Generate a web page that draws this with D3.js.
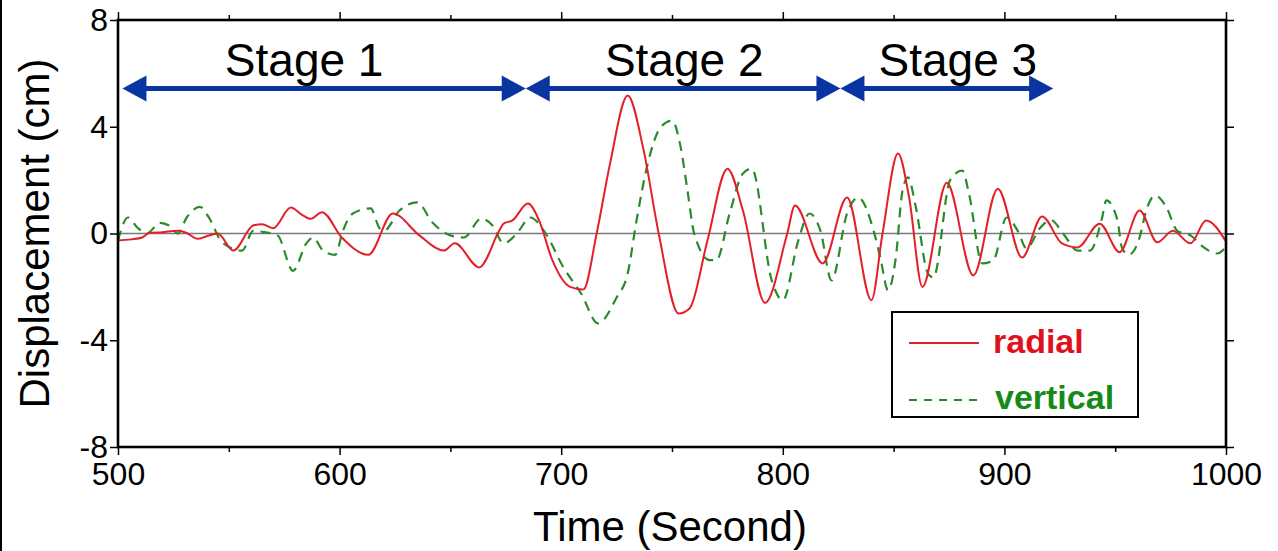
<!DOCTYPE html>
<html>
<head>
<meta charset="utf-8">
<script src="https://cdn.jsdelivr.net/npm/d3@7"></script>
<style>
  body { margin: 0; background: #fff; }
  svg { display: block; font-family: "Liberation Sans", Arial, sans-serif; }
</style>
</head>
<body>
<div id="chart"></div>
<script>
// radial component (time in s, displacement in cm)
const radialTime = [500, 506, 511, 514, 520, 527, 531, 536, 540, 545, 552, 561, 565, 570, 578, 583, 587, 592,
  601, 613, 624, 636, 647, 652, 663, 672, 674, 678, 685, 690, 696, 704, 710, 716, 722, 730, 737, 744, 753,
  758, 766, 775, 782, 792, 802, 805.5, 818, 829, 840, 845, 852, 857, 863, 874, 886, 897, 908, 917, 926, 933,
  943, 952, 961, 969, 976, 984, 991, 1000];
const radialDisp = [-0.26, -0.22, -0.15, 0.02, 0.05, 0.1, 0.02, -0.2, -0.1, 0, -0.64, 0.3, 0.35, 0.2, 0.97, 0.7, 0.55, 0.8,
  -0.15, -0.8, 0.75, -0.07, -0.64, -0.37, -1.27, 0.1, 0.37, 0.49, 1.12, 0.49, -1.0, -2.0, -2.1, 0, 2.6, 5.17, 3.2, 0, -3.0,
  -2.8, -0.26, 2.43, 0.86, -2.6, 0, 1.05, -1.12, 1.35, -2.5, 0, 3.0, 1.35, -2.0, 1.9, -1.57, 1.68, -0.9, 0.64, -0.37, -0.52,
  0.37, -0.7, 0.86, -0.33, 0.1, -0.37, 0.49, -0.3];

// vertical component
const verticalTime = [500, 504.5, 509, 513, 519, 523, 527, 531, 537, 541, 547, 556, 561, 566, 572, 579, 585, 588, 592.5,
  598, 601.5, 606, 614, 618, 620, 627, 635, 642, 650, 656, 664, 669, 674, 680, 686, 693, 701, 709, 716.6, 725, 730,
  734, 739, 745, 750, 754, 757, 760, 767, 770, 776, 782, 786, 795, 800, 807, 812, 817, 822, 829, 834, 841, 844,
  847.5, 851, 854, 856.5, 860, 865.5, 868, 875.5, 881, 884, 890, 895, 901, 906, 910, 916, 921, 926.5, 933, 938.6,
  944, 946, 951, 953, 956, 961, 964, 968, 973, 978, 984, 990, 996, 1000];
const verticalDisp = [-0.26, 0.6, 0.2, 0, 0.4, 0.3, 0, 0.6, 1.0, 0.6, -0.33, -0.64, 0.1, 0.05, -0.07, -1.4, -0.37, -0.15, -0.64,
  -0.8, 0.1, 0.75, 0.94, 0.2, 0.1, 0.86, 1.17, 0.4, -0.07, -0.15, 0.56, 0.3, -0.37, 0, 0.6, 0, -1.27, -2.25, -3.37, -2.4, -1.5,
  0.49, 2.6, 4.0, 4.23, 3.2, 1.6, 0, -1.0, -1.0, 0.75, 2.25, 2.43, -1.76, -2.5, -0.26, 0.75, 0.1, -1.76, 0.75, 1.35, 0.1, -0.9,
  -2.13, -0.9, 1.6, 2.1, 1.0, -1.5, -1.65, 2.0, 2.36, 1.5, -1.12, -1.0, 0.6, 0.1, -0.56, 0.2, 0.5, 0, -0.64, -0.64,
  0.56, 1.24, 0.5, -0.52, -0.8, -0.15, 0.86, 1.42, 1.0, 0.1, -0.07, -0.52, -0.75, -0.5];

const stageNames = ["Stage 1", "Stage 2", "Stage 3"];
const stageStart = [502, 684, 826];
const stageEnd = [684, 826, 922];
const stageLabelAt = [584, 755.5, 879];
const stageLevel = 5.43;

const xTicks = [500, 600, 700, 800, 900, 1000];
const xMinorTicks = [550, 650, 750, 850, 950];
const yTicks = [-8, -4, 0, 4, 8];

const margin = { top: 20, right: 52, bottom: 104, left: 118 };
const width = 1278 - margin.left - margin.right;
const height = 551 - margin.top - margin.bottom;

const svgRoot = d3.select("#chart").append("svg")
    .attr("width", 1278)
    .attr("height", 551);

// thin border on the left edge of the picture
svgRoot.append("line")
    .attr("x1", 1).attr("x2", 1).attr("y1", 0).attr("y2", 551)
    .style("stroke", "#000").style("stroke-width", 2);

const svg = svgRoot.append("g")
    .attr("transform", "translate(" + margin.left + "," + margin.top + ")");

const x = d3.scaleLinear().domain([500, 1000]).range([0, width]);
const y = d3.scaleLinear().domain([-8, 8]).range([height, 0]);

// zero line
svg.append("line")
    .attr("x1", 0).attr("x2", width)
    .attr("y1", y(0)).attr("y2", y(0))
    .style("stroke", "#7a7a7a").style("stroke-width", 1.6);

const radialData = radialTime.map((t, i) => [t, radialDisp[i]]);
const verticalData = verticalTime.map((t, i) => [t, verticalDisp[i]]);

const line = d3.line()
    .x(d => x(d[0]))
    .y(d => y(d[1]))
    .curve(d3.curveMonotoneX);

svg.append("path")
    .datum(verticalData)
    .attr("d", line)
    .style("fill", "none")
    .style("stroke", "#2b8a2b")
    .style("stroke-width", 2.2)
    .style("stroke-dasharray", "10,7");

svg.append("path")
    .datum(radialData)
    .attr("d", line)
    .style("fill", "none")
    .style("stroke", "#e3202a")
    .style("stroke-width", 2);

// axes
const plainNum = d => String(d);

function styleAxis(g) {
    g.select(".domain").remove();
    g.selectAll(".tick line").style("stroke", "#000").style("stroke-width", 1.5);
    g.selectAll(".tick text")
        .style("font-size", "32px")
        .style("font-family", "'Liberation Sans', Arial, sans-serif")
        .style("fill", "#000");
}

svg.append("g")
    .attr("transform", "translate(0," + height + ")")
    .call(d3.axisBottom(x).tickValues(xTicks).tickSize(8).tickPadding(7).tickFormat(plainNum))
    .call(styleAxis);
svg.append("g")
    .attr("transform", "translate(0," + height + ")")
    .call(d3.axisBottom(x).tickValues(xMinorTicks).tickSize(5).tickFormat(""))
    .call(styleAxis);
svg.append("g")
    .call(d3.axisTop(x).tickValues(xTicks).tickSize(8).tickFormat(""))
    .call(styleAxis);
svg.append("g")
    .call(d3.axisTop(x).tickValues(xMinorTicks).tickSize(5).tickFormat(""))
    .call(styleAxis);
svg.append("g")
    .call(d3.axisLeft(y).tickValues(yTicks).tickSize(8).tickPadding(2).tickFormat(plainNum))
    .call(styleAxis);
svg.append("g")
    .attr("transform", "translate(" + width + ",0)")
    .call(d3.axisRight(y).tickValues(yTicks).tickSize(8).tickFormat(""))
    .call(styleAxis);

// frame
svg.append("rect")
    .attr("x", 0).attr("y", 0)
    .attr("width", width).attr("height", height)
    .style("fill", "none")
    .style("stroke", "#000")
    .style("stroke-width", 2.6);

// axis titles
svg.append("text")
    .attr("x", width / 2 - 2)
    .attr("y", height + 94)
    .attr("text-anchor", "middle")
    .style("font-size", "42px")
    .text("Time (Second)");

svg.append("text")
    .attr("transform", "translate(" + (-69) + "," + (height / 2) + ") rotate(-90)")
    .attr("text-anchor", "middle")
    .style("font-size", "42px")
    .text("Displacement (cm)");

// stage arrows
const arrowBlue = "#0a35a0";
const headLen = 24, headHalf = 13;
stageNames.forEach((name, i) => {
    const x0 = x(stageStart[i]), x1 = x(stageEnd[i]), yy = y(stageLevel);
    svg.append("line")
        .attr("x1", x0 + headLen - 2).attr("x2", x1 - headLen + 2)
        .attr("y1", yy).attr("y2", yy)
        .style("stroke", arrowBlue).style("stroke-width", 5);
    svg.append("path")
        .attr("d", `M${x0},${yy}L${x0 + headLen},${yy - headHalf}L${x0 + headLen},${yy + headHalf}Z`)
        .style("fill", arrowBlue);
    svg.append("path")
        .attr("d", `M${x1},${yy}L${x1 - headLen},${yy - headHalf}L${x1 - headLen},${yy + headHalf}Z`)
        .style("fill", arrowBlue);
    svg.append("text")
        .attr("x", x(stageLabelAt[i]))
        .attr("y", yy - 13)
        .attr("text-anchor", "middle")
        .style("font-size", "46px")
        .text(name);
});

// legend
const legend = svg.append("g").attr("transform", "translate(" + (892 - margin.left) + "," + (312 - margin.top) + ")");
legend.append("rect")
    .attr("width", 246).attr("height", 105)
    .style("fill", "#fff").style("stroke", "#000").style("stroke-width", 2);
legend.append("line")
    .attr("x1", 17).attr("x2", 87).attr("y1", 31).attr("y2", 31)
    .style("stroke", "#e3202a").style("stroke-width", 2);
legend.append("text")
    .attr("x", 101).attr("y", 41)
    .style("font-size", "34px").style("font-weight", "bold").style("fill", "#e0101c")
    .text("radial");
legend.append("line")
    .attr("x1", 17).attr("x2", 87).attr("y1", 88).attr("y2", 88)
    .style("stroke", "#2b8a2b").style("stroke-width", 2)
    .style("stroke-dasharray", "8,7");
legend.append("text")
    .attr("x", 103).attr("y", 97)
    .style("font-size", "34px").style("font-weight", "bold").style("fill", "#168a16")
    .text("vertical");
</script>
</body>
</html>
